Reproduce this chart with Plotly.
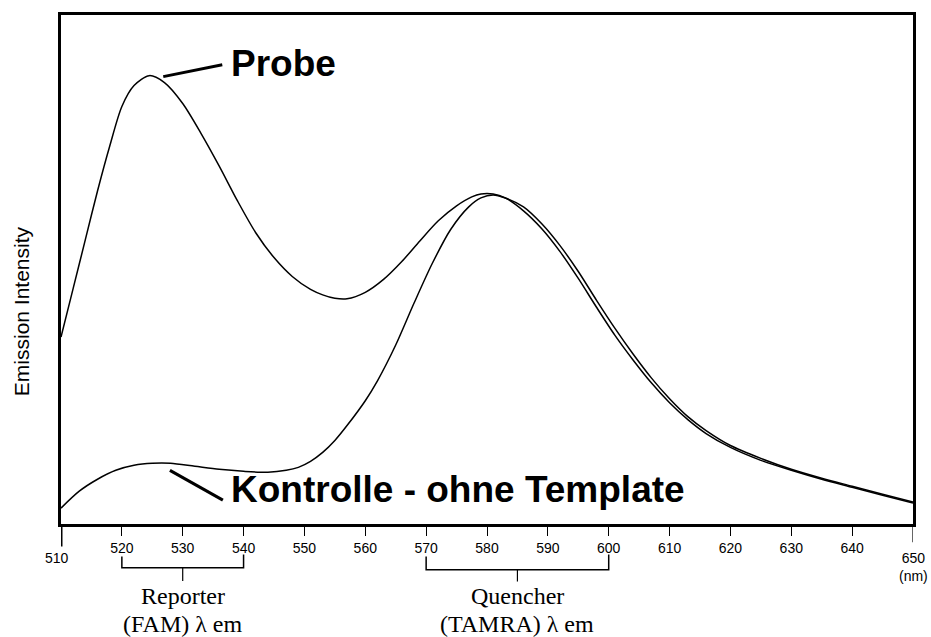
# Emissionsspektren: Sonde vs. Kontrolle ohne Template
import plotly.graph_objects as go

# Probe (FAM + TAMRA, gespalten) - Wellenlänge (nm) / Intensität (willk. Einheiten)
probe_nm = [510, 512, 514, 516, 518, 520, 522, 524.5, 527, 530, 533, 536, 539,
            542, 545, 548, 551, 553, 555, 557, 560, 563, 566, 569, 572, 575, 577.5,
            579, 581, 583, 586, 589, 592, 595, 598, 601, 604, 607, 610, 613, 616,
            620, 625, 630, 635, 640, 645, 650]
probe_int = [188, 237, 286, 335, 380, 420, 441, 451, 444, 423, 393, 360, 325,
             293, 268, 249, 236, 230.5, 227, 226.5, 233, 246, 264, 285, 305, 320, 329,
             332, 332, 328, 315, 297, 274, 247, 218, 190, 165, 142, 122, 105, 91,
             77, 64, 54, 45, 37, 29, 21]

# Kontrolle - ohne Template
ctrl_nm = [510, 513, 516, 519, 522, 525, 528, 532, 536, 540, 544, 547, 549, 551,
           553, 555, 557, 560, 562, 565, 568, 571, 574, 577, 579, 581, 583, 586,
           589, 592, 595, 598, 601, 604, 607, 610, 613, 616, 620, 625, 630, 635,
           640, 645, 650]
ctrl_int = [16, 33, 45, 54, 59, 61, 61, 58, 55, 53, 52, 54, 57, 63,
            72, 84, 99, 124, 144, 180, 222, 262, 296, 319, 328, 331, 328, 319,
            302, 280, 254, 225, 197, 171, 147, 126, 108, 94, 79, 66, 55, 46,
            38, 30, 22]

tick_vals = [520, 530, 540, 550, 560, 570, 580, 590, 600, 610, 620, 630, 640]
x_min, x_max = 510, 650
y_max = 512

fig = go.Figure()
fig.add_trace(go.Scatter(x=probe_nm, y=probe_int, mode='lines',
                         line=dict(color='black', width=1.5, shape='spline', smoothing=0.8)))
fig.add_trace(go.Scatter(x=ctrl_nm, y=ctrl_int, mode='lines',
                         line=dict(color='black', width=1.5, shape='spline', smoothing=0.8)))

serif = 'Liberation Serif, Times New Roman, serif'
sans = 'Liberation Sans, Arial, Helvetica, sans-serif'

shapes = [
    # lange Endstriche bei 510 und 650
    dict(type='line', xref='x', yref='paper', x0=510, x1=510, y0=0, y1=-0.044,
         line=dict(color='black', width=3)),
    dict(type='line', xref='x', yref='paper', x0=650, x1=650, y0=0, y1=-0.036,
         line=dict(color='black', width=1.2)),
    # Klammer Reporter
    dict(type='path', xref='x', yref='paper',
         path='M 520,-0.064 L 520,-0.086 L 540,-0.086 L 540,-0.060',
         line=dict(color='black', width=1.5)),
    dict(type='line', xref='x', yref='paper', x0=530, x1=530, y0=-0.086, y1=-0.112,
         line=dict(color='black', width=1.2)),
    # Klammer Quencher
    dict(type='path', xref='x', yref='paper',
         path='M 570,-0.064 L 570,-0.090 L 600,-0.090 L 600,-0.060',
         line=dict(color='black', width=1.5)),
    dict(type='line', xref='x', yref='paper', x0=585, x1=585, y0=-0.090, y1=-0.113,
         line=dict(color='black', width=1.2)),
    # Hinweislinien
    dict(type='line', xref='x', yref='y', x0=526.8, x1=536.5, y0=450, y1=462,
         line=dict(color='black', width=3)),
    dict(type='line', xref='x', yref='y', x0=527.9, x1=536.6, y0=54, y1=24,
         line=dict(color='black', width=3)),
]

def note(text, x, y, size, family, xref='x', yref='paper', **kw):
    return dict(text=text, x=x, y=y, xref=xref, yref=yref, showarrow=False,
                xanchor=kw.pop('xanchor', 'center'), yanchor='middle',
                font=dict(family=family, size=size, color='black'), **kw)

annotations = [
    note('<b>Probe</b>', 537.6, 463, 37, sans, yref='y', xanchor='left'),
    note('<b>Kontrolle - ohne Template</b>', 537.6, 35, 37, sans, yref='y', xanchor='left'),
    note('510', 510, -0.066, 14, sans, xshift=-4),
    note('650<br>(nm)', 650, -0.085, 14, sans),
    note('Reporter', 530, -0.142, 24, serif),
    note('(FAM) λ em', 530, -0.197, 24, serif),
    note('Quencher', 585, -0.142, 24, serif),
    note('(TAMRA) λ em', 585, -0.197, 24, serif),
    note('Emission Intensity', -0.047, 0.418, 21, sans, xref='paper', textangle=-90),
]

fig.update_layout(
    width=931, height=637,
    margin=dict(l=61, r=18, t=12, b=113),
    paper_bgcolor='white', plot_bgcolor='white',
    showlegend=False,
    shapes=shapes,
    annotations=annotations,
    xaxis=dict(range=[x_min, x_max], showline=True, mirror=True, linecolor='black',
               linewidth=3, showgrid=False, zeroline=False, ticks='outside',
               tickvals=tick_vals, ticklen=9, tickwidth=1, tickcolor='black',
               tickfont=dict(family=sans, size=14, color='black')),
    yaxis=dict(range=[0, y_max], showline=True, mirror=True, linecolor='black',
               linewidth=3, showgrid=False, zeroline=False, showticklabels=False,
               ticks=''),
)

# Seitenrand entfernen, damit die Figur das Fenster genau füllt
fig.write_html("out.html", config={'displayModeBar': False},
               post_script="document.body.style.margin='0';document.body.style.overflow='hidden';")
